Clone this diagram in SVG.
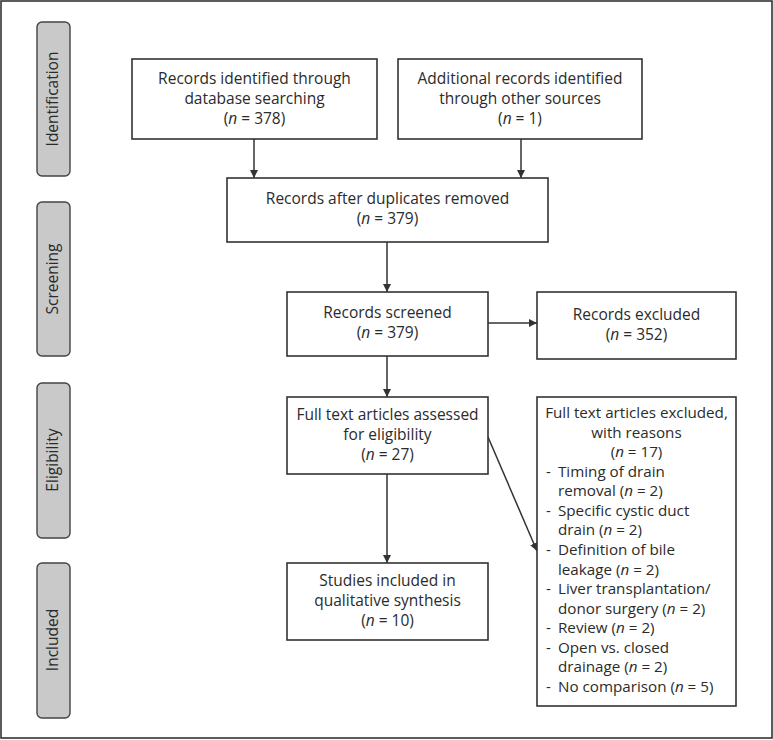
<svg xmlns="http://www.w3.org/2000/svg" width="773" height="740" viewBox="0 0 773 740">
<style>
text{font-family:"Open Sans","Noto Sans","DejaVu Sans",sans-serif;font-size:15.5px;fill:#2b2b2b}
.c{text-anchor:middle}
.i{font-style:italic}
.r{font-size:15.2px}
.box{fill:#fff;stroke:#333;stroke-width:1.6}
.side{fill:#c9c9c9;stroke:#444;stroke-width:1.4}
.edge{stroke:#333;stroke-width:1.5;fill:none;marker-end:url(#ah)}
</style>
<defs>
<marker id="ah" viewBox="0 0 10 10" refX="10" refY="5" markerWidth="8" markerHeight="8" markerUnits="userSpaceOnUse" orient="auto"><path d="M0,0L10,5L0,10z" fill="#333"/></marker>
</defs>
<rect x="1" y="1" width="771" height="737" fill="#fff" stroke="#333" stroke-width="1.6"/>
<g id="side-identification"><rect class="side" x="37" y="22" width="33" height="154" rx="5"/><text class="c" transform="translate(58,99) rotate(-90)">Identification</text></g>
<g id="side-screening"><rect class="side" x="37" y="202" width="33" height="154" rx="5"/><text class="c" transform="translate(58,279) rotate(-90)">Screening</text></g>
<g id="side-eligibility"><rect class="side" x="37" y="383" width="33" height="155" rx="5"/><text class="c" transform="translate(58,460) rotate(-90)">Eligibility</text></g>
<g id="side-included"><rect class="side" x="37" y="563" width="33" height="155" rx="5"/><text class="c" transform="translate(58,640) rotate(-90)">Included</text></g>
<g id="connectors">
<line class="edge" x1="254" y1="139" x2="254" y2="178"/>
<line class="edge" x1="521" y1="139" x2="521" y2="178"/>
<line class="edge" x1="387" y1="242" x2="387" y2="292"/>
<line class="edge" x1="488" y1="323" x2="537" y2="323"/>
<line class="edge" x1="387" y1="356" x2="387" y2="397"/>
<line class="edge" x1="387" y1="474" x2="387" y2="563"/>
<line class="edge" x1="488" y1="437" x2="537" y2="551"/>
</g>
<g id="n-database"><rect class="box" x="132" y="59" width="245" height="80"/><text class="c"><tspan x="254.5" y="84">Records identified through</tspan><tspan x="254.5" y="104">database searching</tspan><tspan x="254.5" y="124">(<tspan class="i">n</tspan> = 378)</tspan></text></g>
<g id="n-other"><rect class="box" x="398" y="59" width="244" height="80"/><text class="c"><tspan x="520" y="84">Additional records identified</tspan><tspan x="520" y="104">through other sources</tspan><tspan x="520" y="124">(<tspan class="i">n</tspan> = 1)</tspan></text></g>
<g id="n-duplicates"><rect class="box" x="227" y="178" width="321" height="64"/><text class="c"><tspan x="387.5" y="204">Records after duplicates removed</tspan><tspan x="387.5" y="224">(<tspan class="i">n</tspan> = 379)</tspan></text></g>
<g id="n-screened"><rect class="box" x="287" y="292" width="201" height="64"/><text class="c"><tspan x="387.5" y="318">Records screened</tspan><tspan x="387.5" y="338">(<tspan class="i">n</tspan> = 379)</tspan></text></g>
<g id="n-excluded"><rect class="box" x="537" y="292" width="199" height="67"/><text class="c"><tspan x="636.5" y="320">Records excluded</tspan><tspan x="636.5" y="340">(<tspan class="i">n</tspan> = 352)</tspan></text></g>
<g id="n-fulltext"><rect class="box" x="287" y="397" width="201" height="77"/><text class="c"><tspan x="387.5" y="420">Full text articles assessed</tspan><tspan x="387.5" y="440">for eligibility</tspan><tspan x="387.5" y="460">(<tspan class="i">n</tspan> = 27)</tspan></text></g>
<g id="n-reasons"><rect class="box" x="537" y="397" width="199" height="309"/>
<text class="c r"><tspan x="636.5" y="418">Full text articles excluded,</tspan><tspan x="636.5" y="437.6">with reasons</tspan><tspan x="636.5" y="457.1">(<tspan class="i">n</tspan> = 17)</tspan></text>
<text class="r"><tspan x="546" y="476.7">-</tspan><tspan x="558" y="476.7">Timing of drain</tspan><tspan x="558" y="496.3">removal (<tspan class="i">n</tspan> = 2)</tspan><tspan x="546" y="515.9">-</tspan><tspan x="558" y="515.9">Specific cystic duct</tspan><tspan x="558" y="535.4">drain (<tspan class="i">n</tspan> = 2)</tspan><tspan x="546" y="555">-</tspan><tspan x="558" y="555">Definition of bile</tspan><tspan x="558" y="574.6">leakage (<tspan class="i">n</tspan> = 2)</tspan><tspan x="546" y="594.1">-</tspan><tspan x="558" y="594.1">Liver transplantation/</tspan><tspan x="558" y="613.7">donor surgery (<tspan class="i">n</tspan> = 2)</tspan><tspan x="546" y="633.3">-</tspan><tspan x="558" y="633.3">Review (<tspan class="i">n</tspan> = 2)</tspan><tspan x="546" y="652.9">-</tspan><tspan x="558" y="652.9">Open vs. closed</tspan><tspan x="558" y="672.4">drainage (<tspan class="i">n</tspan> = 2)</tspan><tspan x="546" y="692">-</tspan><tspan x="558" y="692">No comparison (<tspan class="i">n</tspan> = 5)</tspan></text>
</g>
<g id="n-included"><rect class="box" x="287" y="563" width="201" height="77"/><text class="c"><tspan x="387.5" y="586">Studies included in</tspan><tspan x="387.5" y="606">qualitative synthesis</tspan><tspan x="387.5" y="626">(<tspan class="i">n</tspan> = 10)</tspan></text></g>
</svg>
